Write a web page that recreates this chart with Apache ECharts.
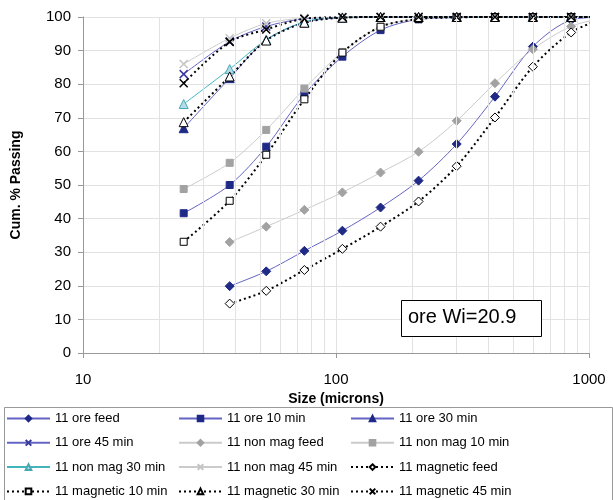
<!DOCTYPE html>
<html>
<head>
<meta charset="utf-8">
<script src="https://cdn.jsdelivr.net/npm/echarts@6/dist/echarts.min.js"></script>
<style>
  html, body { margin: 0; padding: 0; background: #fff; }
  #chart { width: 613px; height: 500px; }
</style>
</head>
<body>
<div id="chart"></div>
<script>
// sieve sizes (microns); the last one lies past the axis end and gets clipped
var sizes = [25, 38, 53, 75, 106, 150, 212, 300, 425, 600, 850, 1180]

var oreFeed     = [null, 19.9, 24.3, 30.4, 36.4, 43.3, 51.3, 62.2, 76.3, 91.2, 99.1, 100]
var ore10       = [41.6, 50.0, 61.4, 77.0, 88.2, 96.1, 99.3, 99.8, 99.9, 100, 100, 100]
var ore30       = [66.9, 81.8, 93.2, 98.4, 99.8, 100, 100, 100, 100, 100, 100, 100]
var ore45       = [83.0, 92.7, 97.2, 99.5, 99.9, 100, 100, 100, 100, 100, 100, 100]
var nonMagFeed  = [null, 33.0, 37.6, 42.6, 47.8, 53.7, 59.9, 69.1, 80.3, 90.4, 97.2, 100]
var nonMag10    = [48.8, 56.6, 66.4, 78.7, 89.6, 97.1, 99.4, 99.9, 100, 100, 100, 100]
var nonMag30    = [74.1, 84.5, 93.2, 98.6, 99.9, 100, 100, 100, 100, 100, 100, 100]
var nonMag45    = [86.0, 93.7, 98.1, 99.7, 100, 100, 100, 100, 100, 100, 100, 100]
var magFeed     = [null, 14.7, 18.5, 24.7, 31.0, 37.6, 45.1, 55.6, 70.1, 85.2, 95.4, 100]
var mag10       = [33.1, 45.3, 59.0, 75.5, 89.4, 97.1, 99.4, 99.9, 100, 100, 100, 100]
var mag30       = [68.7, 82.3, 93.0, 98.3, 99.8, 100, 100, 100, 100, 100, 100, 100]
var mag45       = [80.3, 92.6, 96.3, 99.5, 99.9, 100, 100, 100, 100, 100, 100, 100]

// minor gridlines of the log axis
var minorGrid = [20, 30, 40, 50, 60, 70, 80, 90, 200, 300, 400, 500, 600, 700, 800, 900]

var CROSS = 'path://M0,0L10,10M10,0L0,10'
var FONT = 'Liberation Sans'

function pairs(vals) {
  var out = []
  for (var i = 0; i < sizes.length; i++) {
    if (vals[i] != null) out.push([sizes[i], vals[i]])
  }
  return out
}

function mk(name, vals, line, symbol, fill, border, dashed) {
  var cross = symbol === CROSS
  return {
    name: name,
    type: 'line',
    data: pairs(vals),
    smooth: 0.3,
    clip: true,
    symbol: symbol,
    symbolSize: cross ? 8 : (symbol === 'rect' ? 7 : 9),
    showAllSymbol: true,
    lineStyle: {
      color: line,
      width: dashed ? 2 : 1,
      type: dashed ? [2, 3] : 'solid'
    },
    itemStyle: {
      color: cross ? 'rgba(0,0,0,0)' : fill,
      borderColor: border,
      borderWidth: cross ? 1.5 : 1
    },
    emphasis: { disabled: true }
  }
}

var oreLine = '#6464c4'
var oreMark = '#1f2a86'
var greyLine = '#cbcbcb'
var greyMark = '#a2a2a2'

var series = [
  mk('11 ore feed', oreFeed, oreLine, 'diamond', oreMark, oreMark),
  mk('11 ore 10 min', ore10, oreLine, 'rect', oreMark, oreMark),
  mk('11 ore 30 min', ore30, oreLine, 'triangle', oreMark, oreMark),
  mk('11 ore 45 min', ore45, oreLine, CROSS, oreMark, '#3a3a9c'),
  mk('11 non mag feed', nonMagFeed, greyLine, 'diamond', greyMark, greyMark),
  mk('11 non mag 10 min', nonMag10, greyLine, 'rect', greyMark, greyMark),
  mk('11 non mag 30 min', nonMag30, '#42b4bc', 'triangle', '#b4dce8', '#48a8b4'),
  mk('11 non mag 45 min', nonMag45, greyLine, CROSS, greyLine, '#c4c4c4'),
  mk('11 magnetic feed', magFeed, '#000', 'diamond', '#fff', '#000', true),
  mk('11 magnetic 10 min', mag10, '#000', 'rect', '#fff', '#000', true),
  mk('11 magnetic 30 min', mag30, '#000', 'triangle', '#fff', '#000', true),
  mk('11 magnetic 45 min', mag45, '#000', CROSS, '#000', '#000', true)
]

// minor vertical gridlines on the log axis
series.push({
  type: 'line',
  data: [],
  silent: true,
  z: 0,
  markLine: {
    silent: true,
    symbol: ['none', 'none'],
    label: { show: false },
    lineStyle: { color: '#e2e2e2', width: 1, type: 'solid' },
    data: minorGrid.map(function (v) { return { xAxis: v } })
  }
})

function legendCol(left, names) {
  return {
    orient: 'vertical',
    left: left,
    top: 411,
    height: 89,
    padding: 0,
    itemWidth: 43,
    itemHeight: 7,
    itemGap: 9.3,
    data: names,
    selectedMode: false,
    textStyle: { fontFamily: FONT, fontSize: 13, color: '#000', lineHeight: 15 }
  }
}

var chart = echarts.init(document.getElementById('chart'))
chart.setOption({
  animation: false,
  textStyle: { fontFamily: FONT },
  grid: { left: 83, right: 24, top: 17, bottom: 147 },
  xAxis: {
    type: 'log',
    logBase: 10,
    min: 10,
    max: 1000,
    name: 'Size (microns)',
    nameLocation: 'middle',
    nameGap: 38,
    nameTextStyle: { fontFamily: FONT, fontSize: 14, fontWeight: 'bold', color: '#000' },
    axisLine: { lineStyle: { color: '#999' } },
    axisTick: { show: true, length: 5, lineStyle: { color: '#999' } },
    axisLabel: {
      fontFamily: FONT, fontSize: 15, color: '#000', margin: 19,
      formatter: function (v) { return String(Math.round(v)) }
    },
    splitLine: { show: true, lineStyle: { color: '#e2e2e2' } }
  },
  yAxis: {
    type: 'value',
    min: 0,
    max: 100,
    interval: 10,
    name: 'Cum. % Passing',
    nameLocation: 'middle',
    nameGap: 60,
    nameTextStyle: { fontFamily: FONT, fontSize: 14, fontWeight: 'bold', color: '#000' },
    axisLine: { show: true, lineStyle: { color: '#999' } },
    axisTick: { show: true, length: 5, lineStyle: { color: '#999' } },
    axisLabel: { fontFamily: FONT, fontSize: 15, color: '#000', margin: 12 },
    splitLine: { show: true, lineStyle: { color: '#e2e2e2' } }
  },
  legend: [
    legendCol(6, ['11 ore feed', '11 ore 45 min', '11 non mag 30 min', '11 magnetic 10 min']),
    legendCol(178, ['11 ore 10 min', '11 non mag feed', '11 non mag 45 min', '11 magnetic 30 min']),
    legendCol(350, ['11 ore 30 min', '11 non mag 10 min', '11 magnetic feed', '11 magnetic 45 min'])
  ],
  graphic: [
    {
      type: 'rect',
      left: 2, top: 405,
      shape: { width: 608, height: 93 },
      style: { fill: 'none', stroke: '#999', lineWidth: 1 },
      silent: true
    },
    {
      type: 'rect',
      left: 401, top: 300,
      shape: { width: 140, height: 36 },
      style: { fill: '#fff', stroke: '#000', lineWidth: 1 },
      z: 100,
      silent: true
    },
    {
      type: 'text',
      left: 408, top: 307,
      style: { text: 'ore Wi=20.9', font: '20px "Liberation Sans"', fill: '#000' },
      z: 101,
      silent: true
    }
  ],
  series: series
})
</script>
</body>
</html>
